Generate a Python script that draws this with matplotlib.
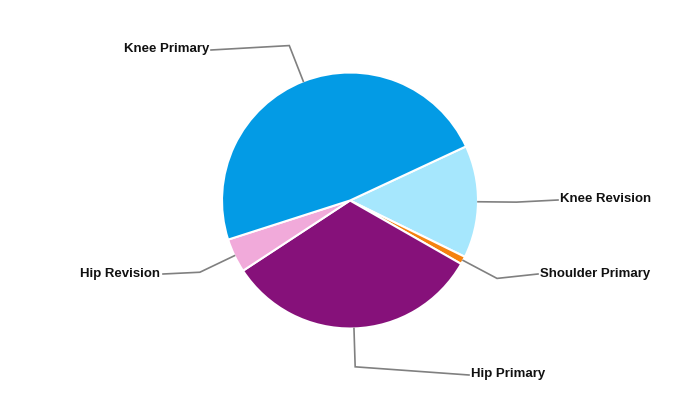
import numpy as np
import matplotlib
matplotlib.use("Agg")
import matplotlib.pyplot as plt

categories = ["Knee Revision", "Shoulder Primary", "Hip Primary", "Hip Revision", "Knee Primary"]
values = [14.2, 1.0, 32.5, 4.3, 48.0]
colors = ["#A6E7FD", "#F5820F", "#86117A", "#F1AADA", "#039BE5"]

# label layout (pixel coords, y from top): text anchor x, y, alignment, line end x, y
label_pos = {
    "Knee Revision": (560, 199, "left", 558, 200),
    "Shoulder Primary": (540, 274, "left", 538, 274),
    "Hip Primary": (471, 374.5, "left", 469, 375),
    "Hip Revision": (160, 274, "right", 163, 274),
    "Knee Primary": (209, 49, "right", 211, 50),
}

H = 400
fig = plt.figure(figsize=(7, 4), dpi=100)
ax = fig.add_axes([0, 0, 1, 1])
cx, cy, R = 350, H - 200.5, 128
wedges, _ = ax.pie(values, colors=colors, startangle=25, counterclock=False,
                   center=(cx, cy), radius=R,
                   wedgeprops=dict(edgecolor="white", linewidth=1.5))
ax.set_xlim(0, 700)
ax.set_ylim(0, H)
ax.set_aspect("equal")
ax.axis("off")

for w, name in zip(wedges, categories):
    mid = np.deg2rad((w.theta1 + w.theta2) / 2)
    x0, y0 = cx + R * np.cos(mid), cy + R * np.sin(mid)
    x1, y1 = cx + 1.3 * R * np.cos(mid), cy + 1.3 * R * np.sin(mid)
    tx, ty, ha, ex, ey = label_pos[name]
    ax.plot([x0, x1, ex], [y0, y1, H - ey], color="#808080", lw=1.2,
            solid_joinstyle="miter", zorder=1)
    ax.text(tx, H - ty, name, ha=ha, va="center", fontsize=9.5,
            fontweight="bold", family="Liberation Sans", color="#111111")

fig.savefig("out.png", dpi=100)
